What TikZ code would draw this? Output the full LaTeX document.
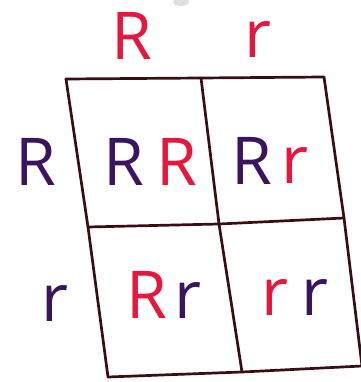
\documentclass[tikz,border=0pt]{standalone}
\usepackage{fontspec}
\setmainfont{Open Sans}
\definecolor{pred}{HTML}{E5173C}
\definecolor{ppur}{HTML}{3B1460}
\definecolor{pline}{HTML}{3A0C14}
\begin{document}
\begin{tikzpicture}[x=1pt,y=-1pt,
  gridline/.style={draw=pline,line width=2.7pt,line cap=round,line join=round},
  allele/.style={anchor=base,inner sep=0pt,font=\fontsize{66}{66}\selectfont},
  redal/.style={allele,text=pred},
  pural/.style={allele,text=ppur}]
\useasboundingbox (0,0) rectangle (360,382);
\fill[gray!25] (181,2) ellipse (8pt and 4pt);
% grid corners
\coordinate (A) at (66,79);
\coordinate (B) at (201,78);
\coordinate (C) at (324,77);
\coordinate (D) at (88,227);
\coordinate (E) at (219,224);
\coordinate (F) at (344,218);
\coordinate (G) at (108,377);
\coordinate (H) at (242,372);
\coordinate (I) at (362,366);
\draw[gridline] (A) -- (B) -- (C);
\draw[gridline] (D) -- (E) -- (F);
\draw[gridline] (G) -- (H) -- (I);
\draw[gridline] (A) -- (D) -- (G);
\draw[gridline] (B) -- (E) -- (H);
\draw[gridline] (C) -- (F) -- (I);
% parent alleles
\node[redal] (tR) at (132,60) {R};
\node[redal] (tr) at (258,58) {r};
\node[pural] (lR) at (36,185) {R};
\node[pural] (lr) at (55,321) {r};
% cells
\node[pural] (c1a) at (124,185) {R};
\node[redal] (c1b) at (177,185) {R};
\node[pural] (c2a) at (252,184) {R};
\node[redal] (c2b) at (295,183) {r};
\node[redal] (c3a) at (147,318) {R};
\node[pural] (c3b) at (188,318) {r};
\node[redal] (c4a) at (275,315) {r};
\node[pural] (c4b) at (315,315) {r};
\end{tikzpicture}
\end{document}
